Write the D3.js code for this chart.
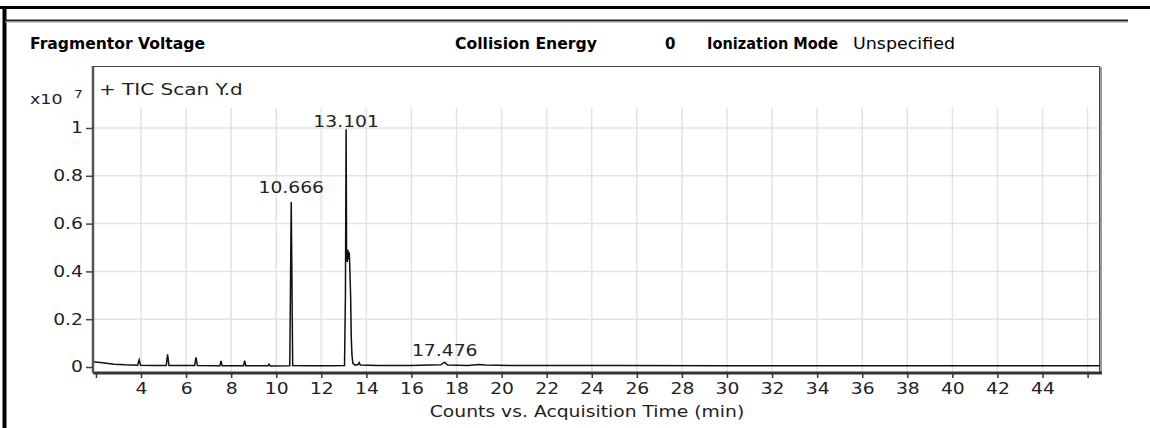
<!DOCTYPE html>
<html>
<head>
<meta charset="utf-8">
<script src="https://cdn.jsdelivr.net/npm/d3@7"></script>
<style>
  html, body { margin: 0; padding: 0; background: #fff; }
  svg { display: block; }
</style>
</head>
<body>
<svg id="chart" width="1150" height="428"></svg>
<script>
// TIC chromatogram, intensity in units of 10^7 counts
const times = [1.87, 2.3, 2.8, 3.3, 3.85, 3.92, 3.98, 4.5, 5.12, 5.18, 5.24, 6.0, 6.38, 6.44, 6.5,
  7.5, 7.55, 7.6, 8.55, 8.6, 8.65, 9.63, 9.68, 9.73, 10.6, 10.666, 10.73, 11.5, 12.5,
  13.03, 13.07, 13.101, 13.12, 13.15, 13.18, 13.21, 13.24, 13.27, 13.3, 13.33, 13.36, 13.4,
  13.5, 13.63, 13.68, 13.73,
  14.5, 16.0, 16.8, 17.3, 17.476, 17.6, 18.5, 19.0, 19.3, 20.5, 25, 30, 35, 40, 46.55]
const intensity = [0.022, 0.018, 0.012, 0.009, 0.007, 0.03, 0.007, 0.006, 0.006, 0.053, 0.006, 0.006, 0.006, 0.04, 0.006,
  0.005, 0.025, 0.005, 0.005, 0.026, 0.005, 0.005, 0.012, 0.004, 0.005, 0.69, 0.006, 0.005, 0.005,
  0.006, 0.3, 0.995, 0.5, 0.44, 0.49, 0.45, 0.48, 0.4, 0.3, 0.12, 0.05, 0.015,
  0.008, 0.01, 0.018, 0.008,
  0.006, 0.006, 0.008, 0.009, 0.02, 0.008, 0.006, 0.01, 0.008, 0.006, 0.006, 0.005, 0.005, 0.005, 0.005]

const peakTimes = [10.666, 13.101, 17.476]
const peakLabels = ['10.666', '13.101', '17.476']

const xTickValues = [2, 4, 6, 8, 10, 12, 14, 16, 18, 20, 22, 24, 26, 28, 30, 32, 34, 36, 38, 40, 42, 44, 46]
const xLabelled = [4, 6, 8, 10, 12, 14, 16, 18, 20, 22, 24, 26, 28, 30, 32, 34, 36, 38, 40, 42, 44]
const yTickValues = [0, 0.2, 0.4, 0.6, 0.8, 1]

const SX = 1.25 // the scan is stretched horizontally
const font = 'DejaVu Sans, Verdana, sans-serif'

var svg = d3.select('#chart')

// page frame pieces
svg.append('line').attr('x1', 0).attr('x2', 1150).attr('y1', 7.5).attr('y2', 7.5)
  .style('stroke', '#000').style('stroke-width', 3)
svg.append('line').attr('x1', 4.5).attr('x2', 4.5).attr('y1', 6).attr('y2', 428)
  .style('stroke', '#000').style('stroke-width', 4)
svg.append('line').attr('x1', 5).attr('x2', 1128).attr('y1', 20.5).attr('y2', 20.5)
  .style('stroke', '#222').style('stroke-width', 2)
svg.append('line').attr('x1', 5).attr('x2', 1128).attr('y1', 22).attr('y2', 22)
  .style('stroke', '#999').style('stroke-width', 1)

// header row
var header = [
  { text: 'Fragmentor Voltage', x: 30, w: 175, bold: true },
  { text: 'Collision Energy', x: 455, w: 142, bold: true },
  { text: '0', x: 665, w: 0, bold: true },
  { text: 'Ionization Mode', x: 707, w: 131, bold: true },
  { text: 'Unspecified', x: 853, w: 102, bold: false }
]
header.forEach(function(h) {
  var t = svg.append('text')
    .attr('x', h.x).attr('y', 49)
    .style('font-family', font)
    .style('font-size', '15px')
    .style('font-weight', h.bold ? 'bold' : 'normal')
    .style('fill', '#000')
    .text(h.text)
  if (h.w) t.attr('textLength', h.w).attr('lengthAdjust', 'spacingAndGlyphs')
})

// plot area
var pLeft = 93, pRight = 1100, pTop = 66, pBottom = 373

var x = d3.scaleLinear().domain([1.87, 46.55]).range([pLeft, pRight])
var y = d3.scaleLinear().domain([0, 1]).range([367, 128])

var g = svg.append('g')

// gridlines
g.selectAll('.vgrid')
  .data(xTickValues.filter(function(d) { return d > 2 }))
  .enter().append('line')
  .attr('x1', function(d) { return x(d) }).attr('x2', function(d) { return x(d) })
  .attr('y1', 108).attr('y2', pBottom)
  .style('stroke', '#e3e3e3').style('stroke-width', 1.5)
g.selectAll('.hgrid')
  .data(yTickValues.filter(function(d) { return d > 0 }))
  .enter().append('line')
  .attr('x1', pLeft).attr('x2', pRight - 2)
  .attr('y1', function(d) { return y(d) }).attr('y2', function(d) { return y(d) })
  .style('stroke', '#e3e3e3').style('stroke-width', 1.5)

// frame with shadow
g.append('line').attr('x1', pLeft).attr('x2', pRight).attr('y1', pTop + 0.5).attr('y2', pTop + 0.5)
  .style('stroke', '#444').style('stroke-width', 1)
g.append('line').attr('x1', pRight - 0.5).attr('x2', pRight - 0.5).attr('y1', pTop).attr('y2', pBottom)
  .style('stroke', '#444').style('stroke-width', 1)
g.append('line').attr('x1', pRight + 1).attr('x2', pRight + 1).attr('y1', pTop + 1).attr('y2', pBottom + 1)
  .style('stroke', '#999').style('stroke-width', 2)

// data trace
svg.append('clipPath').attr('id', 'plotclip')
  .append('rect').attr('x', pLeft).attr('y', pTop).attr('width', pRight - pLeft).attr('height', pBottom - pTop)
var line = d3.line()
  .x(function(d, i) { return x(times[i]) })
  .y(function(d) { return y(d) })
g.append('path')
  .datum(intensity)
  .attr('clip-path', 'url(#plotclip)')
  .attr('d', line)
  .attr('fill', 'none')
  .style('stroke', '#111')
  .style('stroke-width', 1.5)
  .style('stroke-linejoin', 'miter')

// peak labels, each sits a little above its apex
var labelGap = { '10.666': 9, '13.101': 2, '17.476': 6 }
peakTimes.forEach(function(t, i) {
  var idx = times.indexOf(t)
  var py = y(intensity[idx]) - labelGap[peakLabels[i]]
  g.append('text')
    .attr('transform', 'translate(' + x(t) + ',' + py + ') scale(' + SX + ',1)')
    .attr('text-anchor', 'middle')
    .style('font-family', font).style('font-size', '15px').style('fill', '#222')
    .text(peakLabels[i])
})

// axes
var xAxis = d3.axisBottom(x)
  .tickValues(xTickValues)
  .tickSize(5)
  .tickSizeOuter(0)
  .tickFormat(function(d) { return xLabelled.indexOf(d) >= 0 ? d : '' })
var xg = g.append('g').attr('transform', 'translate(0,' + pBottom + ')').call(xAxis)
xg.select('.domain').attr('d', 'M' + pLeft + ',0H' + (pRight + 2))
  .style('stroke', '#333').style('stroke-width', 3)
xg.selectAll('.tick line').style('stroke', '#333').style('stroke-width', 1.5)
xg.selectAll('.tick text')
  .attr('y', 10)
  .attr('transform', 'scale(' + SX + ',1)')
  .style('font-family', font).style('font-size', '15px').style('fill', '#222')

var yAxis = d3.axisLeft(y)
  .tickValues(yTickValues)
  .tickSize(7)
  .tickSizeOuter(0)
  .tickFormat(function(d) { return d === 0 ? '0' : d3.format('.1~f')(d) })
var yg = g.append('g').attr('transform', 'translate(' + pLeft + ',0)').call(yAxis)
yg.select('.domain').attr('d', 'M0,' + pTop + 'V' + pBottom)
  .style('stroke', '#555').style('stroke-width', 2.5)
yg.selectAll('.tick line').style('stroke', '#444').style('stroke-width', 1.5)
yg.selectAll('.tick text')
  .attr('x', -10 / SX)
  .attr('transform', 'scale(' + SX + ',1)')
  .style('font-family', font).style('font-size', '15px').style('fill', '#222')

// exponent and trace title
svg.append('text')
  .attr('transform', 'translate(30,104) scale(' + SX + ',1)')
  .style('font-family', font).style('font-size', '14px').style('fill', '#222')
  .text('x10')
svg.append('text')
  .attr('transform', 'translate(74,98) scale(' + SX + ',1)')
  .style('font-family', font).style('font-size', '11px').style('fill', '#222')
  .text('7')
svg.append('text')
  .attr('transform', 'translate(99,95) scale(' + SX + ',1)')
  .style('font-family', font).style('font-size', '16px').style('fill', '#222')
  .text('+ TIC Scan Y.d')

// x axis title
svg.append('text')
  .attr('transform', 'translate(587,417) scale(' + SX + ',1)')
  .attr('text-anchor', 'middle')
  .style('font-family', font).style('font-size', '15px').style('fill', '#222')
  .text('Counts vs. Acquisition Time (min)')
</script>
</body>
</html>
